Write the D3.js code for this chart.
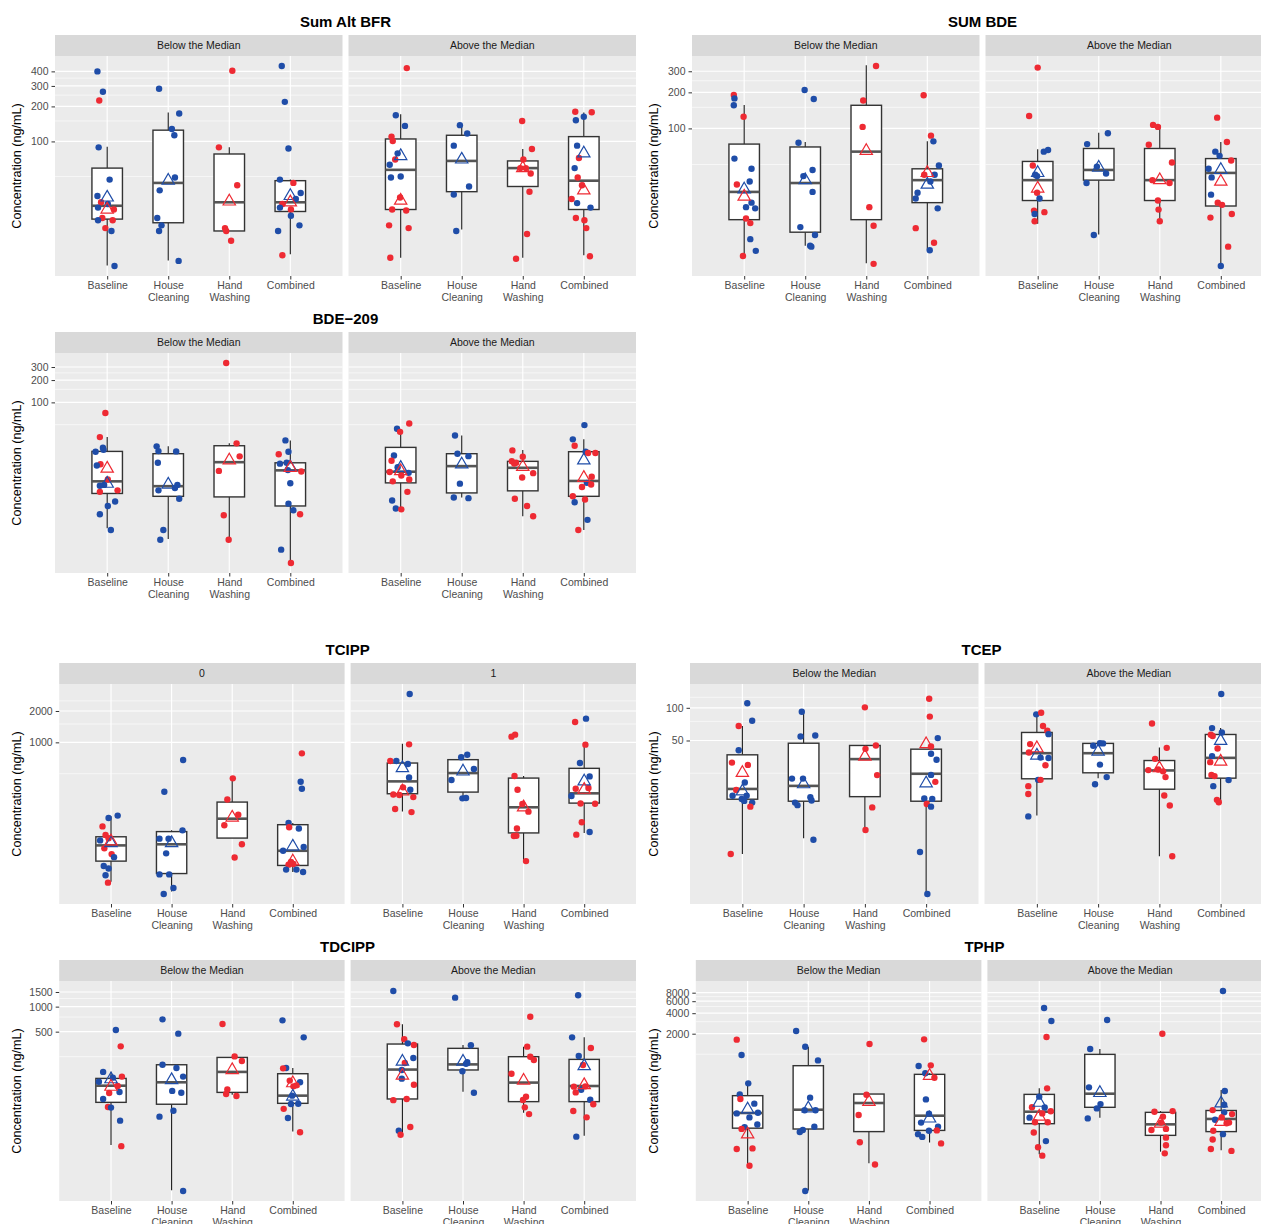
<!DOCTYPE html>
<html><head><meta charset="utf-8">
<script src="https://cdn.jsdelivr.net/npm/d3@7"></script>
<style>
body{margin:0;background:#fff}
svg{display:block}
text{font-family:"Liberation Sans",Arial,sans-serif}
</style>
</head><body>
<svg id="c" width="1261" height="1224"></svg>
<script>
// ---------------- DATA ----------------
const categories = ["Baseline", "House Cleaning", "Hand Washing", "Combined"];
const belowAbove = ["Below the Median", "Above the Median"];
const tcippStrips = ["0", "1"];
const groupColors = {b: "#1F4DA8", r: "#EE2A33"};

// points: [group, concentration, jitter (fraction of category step)]
// boxes: [lower whisker, Q1, median, Q3, upper whisker]; means: [blue, red]
const sumAltBfrBelow = [
 [["b",400,-0.16],["b",267,-0.07],["r",225,-0.13],["b",89,-0.14],["b",47,0.04],["b",34,-0.16],["r",30,-0.10],["b",29,0.01],["b",27,-0.15],["r",26,0.11],["r",22,-0.08],["b",21,-0.15],["r",21,0.09],["r",18,-0.03],["b",17,0.07],["b",8.5,0.12]],
 [["b",284,-0.15],["b",174,0.18],["b",128,0.06],["b",113,0.10],["b",49,0.11],["b",38,-0.14],["b",22,-0.18],["b",19,-0.11],["b",17,-0.15],["b",9.4,0.17]],
 [["r",405,0.05],["r",89,-0.17],["r",42,0.13],["r",18,-0.07],["r",17,-0.05],["r",14,0.03]],
 [["b",445,-0.14],["b",219,-0.09],["b",87,-0.03],["b",47,-0.17],["r",44,0.05],["b",36,0.17],["b",32,0.09],["r",29,-0.13],["b",27,-0.17],["r",26,0.01],["b",23,0.01],["b",19,0.15],["b",17,-0.2],["r",10.5,-0.13]]
];
const sumAltBfrBelowBox = [[8.6,21.5,28,59,90],[9.5,20,44,125,177],[17,17,30,78,89],[10.7,25,30,46,47]];
const sumAltBfrBelowMean = [[33,26],[46,null],[null,30.5],[34,30]];

const sumAltBfrAbove = [
 [["r",427,0.1],["b",168,-0.08],["b",136,0.07],["r",110,-0.15],["r",101,-0.13],["b",79,-0.05],["r",70,-0.09],["b",63,-0.18],["b",49,-0.16],["b",50,0],["r",33,-0.01],["r",26,-0.14],["r",25.5,0.09],["r",19,-0.19],["r",18,0.13],["r",10,-0.17]],
 [["b",138,-0.03],["b",117,0.09],["b",92,-0.13],["b",41,0.12],["b",35,-0.13],["b",17,-0.09]],
 [["r",150,-0.01],["r",86,0.15],["r",70,0.01],["r",59,-0.04],["r",59,0.05],["r",53,0.13],["r",37,0.11],["r",16,0.07],["r",9.8,-0.11]],
 [["r",180,-0.14],["r",178,0.13],["b",163,0],["b",152,-0.13],["b",92,-0.11],["r",72,-0.08],["b",59,-0.15],["r",49,-0.1],["r",42,-0.03],["r",32,-0.2],["b",29.5,-0.11],["b",27,0.11],["r",22,-0.13],["r",21,0.01],["r",18,0.04],["r",10.3,0.1]]
];
const sumAltBfrAboveBox = [[10,26,57,105,171],[17.5,37,68,113,135],[10,41,59,68,86],[10.5,26,46,110,177]];
const sumAltBfrAboveMean = [[75,31],[70,null],[null,59],[79,38]];

const sumBdeBelow = [
 [["r",190,-0.17],["b",178,-0.16],["b",156,-0.17],["r",125,-0.01],["b",56,-0.16],["b",46,0.12],["b",36,0.09],["r",34,-0.12],["b",24,0.12],["b",22,0.03],["b",21.5,0.18],["r",17.7,0.03],["r",16.2,0.1],["b",11.9,0.1],["b",9.5,0.19],["r",8.6,-0.02]],
 [["b",209,-0.01],["b",176,0.14],["b",76,-0.11],["b",45,0.12],["b",40,-0.03],["b",29.5,0.12],["b",15,-0.08],["b",12.9,0.16],["b",10.5,0.08],["b",10.3,0.1]],
 [["r",332,0.16],["r",171,-0.05],["r",103,-0.06],["r",22,0.05],["r",15.4,0.12],["r",7.4,0.12]],
 [["r",189,-0.06],["r",87,0.06],["b",78,0.1],["b",49,0.19],["b",41,0.12],["r",41,-0.05],["b",36,0.05],["b",29,-0.16],["b",26,-0.19],["b",21.5,0.17],["r",14.7,-0.19],["r",11.1,0.11],["b",9.6,0.04]]
];
const sumBdeBelowBox = [[8.8,17.3,29.5,74,157],[10.5,13.6,35,70,77],[7.5,17.3,64,156,337],[9.7,24,37,46,78]];
const sumBdeBelowMean = [[31,27],[37,null],[null,65],[34,42.5]];

const sumBdeAbove = [
 [["r",322,0],["r",127,-0.14],["b",64,0.1],["b",66,0.17],["r",49,-0.08],["b",41,-0.04],["b",40,-0.01],["r",29,-0.01],["b",26,0.03],["r",20.6,-0.06],["b",19.3,-0.05],["r",20,0.11],["r",16.8,-0.05]],
 [["b",91,0.15],["b",74,-0.19],["b",48,-0.03],["b",42,0.12],["b",35,-0.2],["b",12.9,-0.08]],
 [["r",107,-0.11],["r",103,-0.03],["r",73,-0.18],["r",52,0.2],["r",37,-0.12],["r",35,0.16],["r",25,-0.03],["r",21,-0.02],["r",16.8,0]],
 [["r",123,-0.06],["r",77,0.1],["b",64,-0.09],["b",59,-0.02],["r",54,0.17],["b",46,-0.2],["b",39,-0.15],["b",28,-0.16],["r",24,-0.05],["r",23,0.02],["r",18,-0.17],["r",19.3,0.18],["r",10.3,0.12],["b",7.1,0]]
];
const sumBdeAboveBox = [[16,25,37,53,67],[13,37,45,68,92],[16.5,25,37,68,107],[7.2,22.5,42.5,56,77]];
const sumBdeAboveMean = [[42.5,31.5],[47,null],[null,37],[45,36]];

const bde209Below = [
 [["r",72,-0.03],["r",34,-0.12],["b",24.4,-0.07],["b",23,-0.06],["b",21.6,-0.19],["r",14.6,-0.11],["b",14.1,-0.17],["r",9.1,0.01],["b",7.7,-0.05],["b",7.5,-0.12],["r",6.5,0.17],["r",6.2,-0.12],["b",4.6,0.13],["b",4,0.01],["b",3.1,-0.12],["b",1.9,0.06]],
 [["b",25.5,-0.19],["b",22,-0.16],["b",21.8,0.13],["b",15.3,-0.17],["b",7.7,0.15],["b",7,0.11],["b",6.5,-0.16],["b",5,0.18],["b",1.9,-0.08],["b",1.4,-0.13]],
 [["r",340,-0.05],["r",28,0.12],["r",18.7,0.17],["r",11.9,-0.17],["r",3,-0.09],["r",1.4,-0.01]],
 [["b",30.7,-0.08],["b",21.6,-0.03],["r",20,-0.19],["b",14.9,-0.17],["b",15.3,-0.06],["b",12.2,-0.04],["r",11.7,0.18],["b",8.1,0],["b",4.3,-0.03],["b",3.5,0.05],["r",3.1,0.16],["b",1.03,-0.15],["r",0.68,0.01]]
];
const bde209BelowBox = [[2.0,5.9,8.6,21.8,34],[1.43,5.4,7.4,20.3,25.5],[1.4,5.3,15.6,26,28],[0.68,4,12.1,15.3,30.7]];
const bde209BelowMean = [[8,12.8],[7.8,null],[null,16.5],[13.4,13.1]];

const bde209Above = [
 [["r",52,0.14],["b",44,-0.06],["r",40,-0.01],["b",19.2,-0.11],["r",16.3,-0.15],["b",13.3,-0.05],["r",11.5,-0.18],["b",11.2,0.13],["r",10.3,0.01],["r",9.1,0.14],["r",8.6,-0.13],["r",6.2,0.11],["b",4.75,-0.14],["b",3.7,-0.08],["r",3.6,0.01]],
 [["b",35.8,-0.11],["b",20.3,-0.07],["b",18.8,0.11],["b",8,-0.03],["b",5.2,-0.13],["b",5.1,0.11]],
 [["r",22.5,-0.17],["r",18.5,0],["r",16.1,-0.18],["r",15.3,-0.11],["r",15,-0.14],["r",11.1,0.17],["r",9.7,-0.01],["r",5,-0.13],["r",4,0.07],["r",2.9,0.17]],
 [["b",49.4,0.01],["b",31.7,-0.18],["r",26,-0.15],["b",21.6,0.03],["r",20.7,0.07],["r",20.7,0.19],["r",9.9,0.13],["b",8.2,0.05],["r",7.8,0.12],["r",7.2,-0.03],["r",5.4,-0.18],["b",4.5,-0.15],["r",4.9,0.02],["b",2.6,0.06],["r",1.9,-0.09]]
];
const bde209AboveBox = [[3.7,8.2,11.6,24.7,39],[5.2,6,13.8,20.3,35.8],[2.9,6.4,13.1,16,22.7],[1.9,5.4,8.7,21.6,31.7]];
const bde209AboveMean = [[13.1,11.8],[14.6,null],[null,13.5],[16.5,9.6]];

const tcippZero = [
 [["b",198,0.11],["b",188,-0.04],["r",156,-0.14],["r",129,-0.09],["b",114.5,-0.18],["r",120,-0.04],["r",96,-0.11],["r",84.6,0.01],["b",79,0.05],["b",65,-0.12],["b",61.6,-0.04],["b",53,-0.09],["r",45,-0.05]],
 [["b",676,0.19],["b",336,-0.12],["b",143,0.18],["b",119,-0.2],["b",119,-0.05],["b",86,-0.09],["b",54,-0.2],["b",54,-0.04],["b",40,0.03],["b",35,-0.13]],
 [["r",451,0.01],["r",283,-0.08],["r",202,0.1],["r",160,-0.13],["r",105,0.16],["r",78.5,0.04]],
 [["r",784,0.15],["b",419,0.13],["b",359,0.15],["b",168,-0.07],["r",153,-0.06],["b",149,0.1],["b",99,0.18],["b",91,-0.16],["r",71,-0.03],["r",68,0.01],["r",67,-0.07],["b",60,-0.11],["b",60,0.06],["b",57,0.17]]
];
const tcippZeroBox = [[46,72.4,102.5,124,195],[37,55,105,139,143],[120.5,120.5,185,267,448],[57,65.8,91,162,168]];
const tcippZeroMean = [[108,112],[108,null],[null,190],[100,72]];

const tcippOne = [
 [["b",2912,0.12],["r",957,0.11],["r",662,-0.2],["b",662,-0.1],["b",619,0.09],["b",461,0.11],["b",351,0.13],["r",370,0.01],["r",316,-0.15],["r",312,-0.05],["r",298,0.18],["r",229,-0.12],["r",214,0.15]],
 [["b",761,0.07],["b",720,-0.03],["b",554,0.18],["b",435,-0.19],["b",290,-0.01],["b",292,0.05]],
 [["r",1134,-0.2],["r",1185,-0.14],["r",475,-0.15],["r",351,-0.1],["r",256,-0.02],["r",216,0.08],["r",149,-0.11],["r",126,-0.16],["r",127,-0.12],["r",72.4,0.04]],
 [["b",1688,0.03],["r",1567,-0.15],["r",950,0.02],["b",633,-0.07],["b",471,0.09],["r",359,-0.14],["r",365,0.07],["b",305,-0.21],["r",259,-0.06],["r",257,0.18],["r",171,-0.04],["r",130,-0.13],["b",138,0.09]]
];
const tcippOneBox = [[217,321,422,633,971],[292,333,507,682,761],[74,135,238,454,475],[135,261,324,563,950]];
const tcippOneMean = [[567,338],[526,null],[null,238],[422,351]];

const tcepBelow = [
 [["b",110,0.08],["b",76,0.16],["r",68,-0.06],["b",40.7,-0.06],["r",31.3,-0.17],["r",29.8,0.09],["b",20.5,0.04],["r",17.5,-0.1],["b",15.5,-0.16],["b",15.5,0.07],["b",14.5,-0.01],["b",13.9,0.03],["b",13.4,0.16],["r",12.3,0.13],["r",4.5,-0.19]],
 [["b",92,-0.03],["b",54.4,-0.05],["b",55.6,0.19],["b",22.3,-0.19],["b",22.3,-0.01],["b",13.4,-0.14],["b",12.7,-0.1],["b",15,0.11],["b",14,0.13],["b",6.1,0.16]],
 [["r",101,0],["r",45,0.18],["r",41.9,0.01],["r",24,0.2],["r",12.1,0.12],["r",7.5,0.01]],
 [["r",121,0.05],["r",83,0.06],["b",52.6,0.19],["r",44,0.08],["b",37.7,0.08],["b",33.2,0.17],["b",24.1,0.08],["r",20.8,0.15],["b",14.6,-0.03],["b",14.5,0.1],["r",13,0.01],["b",12.3,0.08],["b",4.7,-0.1],["b",1.93,0.02]]
];
const tcepBelowBox = [[4.5,14.4,17.9,36.9,68],[6.3,13.8,19.1,47.2,92],[7.5,15.2,33.7,45,45],[1.93,13.8,24.7,41.6,41.6]];
const tcepBelowMean = [[17,25.2],[19.8,null],[null,35.6],[20.2,46.3]];

const tcepAbove = [
 [["b",87,-0.01],["r",90,0.07],["r",68,0.1],["r",61.4,0.17],["b",57.2,0.19],["r",46.3,-0.11],["r",38.8,-0.13],["b",34.8,0.06],["b",34.5,0.19],["r",29.6,0.14],["b",21.7,0.02],["r",21.7,0.06],["r",19,-0.14],["r",16.1,-0.14],["b",10,-0.14]],
 [["b",47.2,0.03],["b",47,0.08],["b",44.7,-0.08],["b",30,0.03],["b",23,0.14],["b",19.8,-0.05]],
 [["r",71.7,-0.12],["r",42.8,0.12],["r",33.9,-0.07],["r",26.7,-0.18],["r",27,-0.02],["r",26,0.06],["r",23,0.1],["r",15.6,0.08],["r",12.6,0.17],["r",4.3,0.21]],
 [["b",134,0.01],["b",65,-0.14],["b",59.3,0.02],["r",56.4,-0.16],["r",55,-0.13],["r",42.2,-0.05],["b",35.9,-0.14],["r",31.6,-0.17],["r",24.1,-0.15],["r",23.5,-0.1],["b",21.6,0.13],["b",19,-0.12],["r",14.2,-0.06],["r",13.5,-0.03]]
];
const tcepAboveBox = [[10.2,22.2,38.2,59.3,87],[22.5,25.2,38.2,47,47],[4.3,17.8,26.5,32.7,43],[13.7,22.5,34.6,56.8,65]];
const tcepAboveMean = [[36.4,42.5],[39.6,null],[null,27.8],[49.7,32]];

const tdcippBelow = [
 [["b",524,0.08],["r",333,0.16],["b",164,-0.13],["r",144,0.18],["b",140,0.03],["b",125,-0.2],["r",111,0.11],["b",94,0.14],["r",91.5,-0.03],["b",77.5,-0.13],["r",62,-0.05],["b",61,0],["b",42.5,0.15],["r",21,0.17]],
 [["b",703,-0.15],["b",473,0.11],["b",200,-0.15],["b",183,0.08],["b",144,0.19],["b",97,0.01],["b",92,0.16],["b",56,0.03],["b",47.5,-0.2],["b",6.06,0.19]],
 [["r",618,-0.16],["r",252,0.04],["r",222,0.16],["r",101,-0.08],["r",89,-0.1],["r",84,0.07]],
 [["b",684,-0.17],["b",427,0.18],["b",183,-0.11],["r",181,-0.16],["r",129,-0.05],["b",123,0.12],["r",113,0.06],["r",110,0.01],["b",85,-0.01],["b",67.4,-0.03],["b",68,0.09],["r",59,-0.15],["b",45.8,-0.08],["r",30.8,0.12]]
];
const tdcippBelowBox = [[21.7,70.6,112,137,165],[6.2,67,123,200,200],[87,93,164,245,245],[31.5,68.7,85,156,183]];
const tdcippBelowMean = [[134,109],[131,null],[null,173],[83,120]];

const tdcippAbove = [
 [["b",1542,-0.15],["r",613,-0.09],["r",405,0.03],["b",362,0.09],["r",346,0.19],["b",241,0.18],["r",210,0.04],["b",173,-0.01],["b",136,-0.01],["r",115,0.19],["r",75,-0.15],["r",77.5,0.07],["b",32.2,-0.06],["r",35.6,0.13],["r",28.8,-0.03]],
 [["b",1282,-0.13],["b",343,0.13],["b",214,0.07],["b",205,0.05],["b",167,-0.01],["b",92,0.18]],
 [["r",757,0.11],["r",330,0.06],["r",250,0.11],["r",228,0.17],["r",156,-0.2],["r",82.6,0.04],["r",75.4,-0.01],["r",61.5,0.02],["r",51,0.09]],
 [["b",1368,-0.1],["b",427,-0.2],["r",318,0.11],["b",255,-0.09],["r",199,-0.02],["b",100,-0.05],["r",109,-0.17],["r",110,0.02],["r",93,-0.14],["b",76,0.1],["r",67,0.15],["r",55.6,-0.18],["r",46.6,0.04],["b",27.3,-0.13]]
];
const tdcippAboveBox = [[29,77.5,175,355,613],[95,173,202,315,345],[53,72,122,250,330],[28,72,111,232,427]];
const tdcippAboveMean = [[218,148],[218,null],[null,129],[193,114]];

const tphpBelow = [
 [["r",1634,-0.18],["b",973,-0.1],["b",373,0.01],["b",257,-0.13],["r",220,-0.12],["b",188,0.11],["b",135,-0.18],["b",138,0.17],["b",118,0.03],["b",93,0.16],["b",85,-0.05],["r",80,-0.1],["r",40.5,-0.18],["r",41.4,0.08],["r",23,0.03]],
 [["b",2187,-0.2],["b",1289,-0.05],["b",811,0.16],["b",230,0.03],["b",150,0.12],["b",150,-0.06],["b",86,0.1],["b",77,-0.09],["b",72,-0.14],["b",9.8,-0.05]],
 [["r",1410,0.01],["r",254,-0.04],["r",128,-0.17],["r",51,-0.15],["r",24,0.1]],
 [["r",1652,-0.09],["b",670,-0.18],["r",686,0.02],["b",524,-0.07],["r",452,0.08],["b",217,-0.06],["b",134,-0.01],["b",99,-0.14],["b",86,0.14],["r",76,0.12],["b",75,-0.01],["b",67,-0.19],["b",61,-0.12],["r",49,0.19]]
];
const tphpBelowBox = [[24,82,137,246,364],[10,79.7,153,678,1289],[25,73,192,260,260],[50.5,76,125,506,524]];
const tphpBelowMean = [[155,66.5],[160,null],[null,200],[114,483]];

const tphpAbove = [
 [["b",4764,0.08],["b",3070,0.2],["r",1787,0.12],["r",315,0.13],["b",238,0],["r",166,-0.12],["b",165,0.09],["r",145,0.19],["r",135,0.05],["b",117,-0.16],["r",100,-0.07],["r",100,0.14],["r",71,-0.09],["b",53,0.11],["r",43,-0.02],["r",32.4,0.05]],
 [["b",3170,0.12],["b",1191,-0.16],["b",326,-0.18],["b",185,0.01],["b",160,-0.05],["b",114,-0.2]],
 [["r",2000,0.03],["r",143,-0.1],["r",146,0.2],["r",121,0.04],["r",99,0.01],["r",77,-0.15],["r",80,0.09],["r",59.5,0.09],["r",46,0.09],["r",35,0.07]],
 [["b",8470,0.03],["b",288,0.06],["b",181,0.05],["r",151,-0.14],["b",140,0.05],["r",132,0.18],["r",118,0.01],["b",109,-0.1],["r",99,0.13],["r",97,0.09],["b",67,0.03],["r",75.3,-0.13],["r",56,-0.14],["r",40.5,-0.17],["r",38,0.17]]
];
const tphpAboveBox = [[34,95.4,143,257,315],[117,166,263,994,1191],[37,64.3,93.3,140,146],[39,73,112,149,298]];
const tphpAboveMean = [[194,121],[270,null],[null,96],[190,102]];

// tick values (major labelled, minor gridlines)
const sumAltBfrTicks = [100,200,300,400], sumAltBfrMinor = [50,150,250,350];
const sumBdeTicks = [100,200,300], sumBdeMinor = [50,150,250];
const bde209Ticks = [100,200,300], bde209Minor = [50,150,250];
const tcippTicks = [1000,2000], tcippMinor = [500,1500,2500];
const tcepTicks = [50,100], tcepMinor = [25,75,125];
const tdcippTicks = [500,1000,1500], tdcippMinor = [250,750,1250];
const tphpTicks = [2000,4000,6000,8000], tphpMinor = [1000,3000,5000,7000];

// ---------------- LAYOUT ----------------
const plots = [
 {title:"Sum Alt BFR", ox:0, oy:0, left:55, strips:belowAbove, ticks:sumAltBfrTicks, minor:sumAltBfrMinor,
  facets:[[sumAltBfrBelow,sumAltBfrBelowBox,sumAltBfrBelowMean],[sumAltBfrAbove,sumAltBfrAboveBox,sumAltBfrAboveMean]]},
 {title:"SUM BDE", ox:637, oy:0, left:55, strips:belowAbove, ticks:sumBdeTicks, minor:sumBdeMinor,
  facets:[[sumBdeBelow,sumBdeBelowBox,sumBdeBelowMean],[sumBdeAbove,sumBdeAboveBox,sumBdeAboveMean]]},
 {title:"BDE\u2212209", ox:0, oy:297, left:55, strips:belowAbove, ticks:bde209Ticks, minor:bde209Minor,
  facets:[[bde209Below,bde209BelowBox,bde209BelowMean],[bde209Above,bde209AboveBox,bde209AboveMean]]},
 {title:"TCIPP", ox:0, oy:628, left:59.2, strips:tcippStrips, ticks:tcippTicks, minor:tcippMinor,
  facets:[[tcippZero,tcippZeroBox,tcippZeroMean],[tcippOne,tcippOneBox,tcippOneMean]]},
 {title:"TCEP", ox:637, oy:628, left:53, strips:belowAbove, ticks:tcepTicks, minor:tcepMinor,
  facets:[[tcepBelow,tcepBelowBox,tcepBelowMean],[tcepAbove,tcepAboveBox,tcepAboveMean]]},
 {title:"TDCIPP", ox:0, oy:925, left:59.2, strips:belowAbove, ticks:tdcippTicks, minor:tdcippMinor,
  facets:[[tdcippBelow,tdcippBelowBox,tdcippBelowMean],[tdcippAbove,tdcippAboveBox,tdcippAboveMean]]},
 {title:"TPHP", ox:637, oy:925, left:58.8, strips:belowAbove, ticks:tphpTicks, minor:tphpMinor,
  facets:[[tphpBelow,tphpBelowBox,tphpBelowMean],[tphpAbove,tphpAboveBox,tphpAboveMean]]}
];

const PANEL_TOP = 56, PANEL_BOTTOM = 276, STRIP_TOP = 35, GAP = 6, PLOT_W = 636;
const FONT = '"Liberation Sans", Arial, sans-serif';
const svg = d3.select("#c");
const tri = d3.symbol().type(d3.symbolTriangle).size(66)();

plots.forEach(p => {
  const g = svg.append("g").attr("transform", `translate(${p.ox},${p.oy})`);
  const vals = p.facets.flatMap(f => f[0].flat()).map(d => d[1]);
  const lo = Math.log10(d3.min(vals)), hi = Math.log10(d3.max(vals));
  const pad = (hi - lo) * 0.05;
  const y = d3.scaleLog().domain([Math.pow(10, lo - pad), Math.pow(10, hi + pad)]).range([PANEL_BOTTOM, PANEL_TOP]);
  const W = (PLOT_W - p.left - GAP) / 2;

  // title
  g.append("text").attr("x", (p.left + PLOT_W) / 2).attr("y", 27.4)
    .attr("text-anchor", "middle").attr("font-size", 15).attr("font-weight", "bold")
    .attr("fill", "#000").text(p.title);
  // y axis title
  g.append("text").attr("transform", `translate(17,${(PANEL_TOP + PANEL_BOTTOM) / 2}) rotate(-90)`)
    .attr("text-anchor", "middle").attr("dy", "0.35em").attr("font-size", 12.6).attr("fill", "#000")
    .text("Concentration (ng/mL)");

  p.facets.forEach((f, fi) => {
    const x0 = p.left + fi * (W + GAP);
    const x = d3.scalePoint().domain(categories).range([x0, x0 + W]).padding(0.855);
    const step = x.step(), bw = step * 0.5;

    g.append("rect").attr("x", x0).attr("y", PANEL_TOP).attr("width", W)
      .attr("height", PANEL_BOTTOM - PANEL_TOP).attr("fill", "#EBEBEB");
    g.append("g").selectAll("line").data(p.minor).join("line")
      .attr("x1", x0).attr("x2", x0 + W).attr("y1", d => y(d)).attr("y2", d => y(d))
      .attr("stroke", "#fff").attr("stroke-width", 0.6);
    g.append("g").selectAll("line").data(p.ticks).join("line")
      .attr("x1", x0).attr("x2", x0 + W).attr("y1", d => y(d)).attr("y2", d => y(d))
      .attr("stroke", "#fff").attr("stroke-width", 1.15);
    g.append("g").selectAll("line").data(categories).join("line")
      .attr("x1", d => x(d)).attr("x2", d => x(d)).attr("y1", PANEL_TOP).attr("y2", PANEL_BOTTOM)
      .attr("stroke", "#fff").attr("stroke-width", 1.15);

    // strip
    g.append("rect").attr("x", x0).attr("y", STRIP_TOP).attr("width", W)
      .attr("height", PANEL_TOP - STRIP_TOP).attr("fill", "#D9D9D9");
    g.append("text").attr("x", x0 + W / 2).attr("y", 49.3).attr("text-anchor", "middle")
      .attr("font-size", 10.5).attr("fill", "#1A1A1A").text(p.strips[fi]);

    // boxes
    const bx = g.append("g");
    f[1].forEach((b, ci) => {
      const cx = x(categories[ci]);
      bx.append("line").attr("x1", cx).attr("x2", cx).attr("y1", y(b[0])).attr("y2", y(b[1]))
        .attr("stroke", "#1a1a1a").attr("stroke-width", 1.1);
      bx.append("line").attr("x1", cx).attr("x2", cx).attr("y1", y(b[3])).attr("y2", y(b[4]))
        .attr("stroke", "#1a1a1a").attr("stroke-width", 1.1);
      bx.append("rect").attr("x", cx - bw / 2).attr("y", y(b[3])).attr("width", bw)
        .attr("height", y(b[1]) - y(b[3])).attr("fill", "#fff").attr("stroke", "#333").attr("stroke-width", 1.4);
      bx.append("line").attr("x1", cx - bw / 2).attr("x2", cx + bw / 2).attr("y1", y(b[2])).attr("y2", y(b[2]))
        .attr("stroke", "#555").attr("stroke-width", 2.6);
    });

    // points
    const pts = f[0].flatMap((arr, ci) => arr.map(d => ({c: categories[ci], g: d[0], v: d[1], j: d[2]})));
    g.append("g").selectAll("circle").data(pts).join("circle")
      .attr("cx", d => x(d.c) + d.j * step).attr("cy", d => y(d.v)).attr("r", 3.2)
      .attr("fill", d => groupColors[d.g]);

    // means (hollow triangles)
    const means = f[2].flatMap((m, ci) => [{c: categories[ci], g: "b", v: m[0]}, {c: categories[ci], g: "r", v: m[1]}])
      .filter(d => d.v != null);
    g.append("g").selectAll("path").data(means).join("path")
      .attr("d", tri).attr("transform", d => `translate(${x(d.c)},${y(d.v)})`)
      .attr("fill", "none").attr("stroke", d => groupColors[d.g]).attr("stroke-width", 1.2);

    // x axis
    const ax = g.append("g").attr("transform", `translate(0,${PANEL_BOTTOM})`)
      .call(d3.axisBottom(x).tickSize(3.5).tickPadding(2.5));
    ax.select(".domain").remove();
    ax.selectAll(".tick line").attr("stroke", "#333");
    ax.selectAll(".tick text").attr("font-size", 10.5).attr("font-family", FONT).attr("fill", "#4D4D4D")
      .attr("dy", null)
      .each(function (d) {
        const t = d3.select(this); t.text(null);
        d.split(" ").forEach((w, i) => t.append("tspan").attr("x", 0).attr("dy", i ? "1.07em" : "0.71em").text(w));
      });

    if (fi === 0) {
      const ay = g.append("g").attr("transform", `translate(${x0},0)`)
        .call(d3.axisLeft(y).tickValues(p.ticks).tickFormat(d3.format("d")).tickSize(3.5).tickPadding(3));
      ay.select(".domain").remove();
      ay.selectAll(".tick line").attr("stroke", "#333");
      ay.selectAll(".tick text").attr("font-size", 10.5).attr("font-family", FONT).attr("fill", "#4D4D4D");
    }
  });
});
</script>
</body></html>
